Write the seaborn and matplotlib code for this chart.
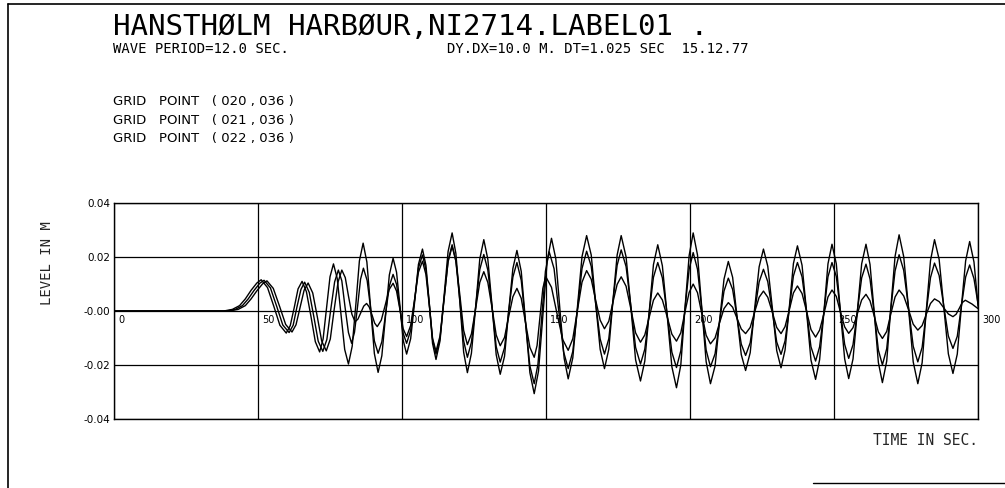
import numpy as np
import pandas as pd
import matplotlib
matplotlib.use("Agg")
import matplotlib.pyplot as plt
import seaborn as sns
from matplotlib.lines import Line2D
from matplotlib.transforms import ScaledTranslation

# ---------------- data ----------------
TITLE = "HANSTHØLM HARBØUR,NI2714.LABEL01 ."
SUB_LEFT = "WAVE PERIOD=12.0 SEC."
SUB_RIGHT = "DY.DX=10.0 M. DT=1.025 SEC  15.12.77"
GRID_POINTS = ["(020, 036)", "(021, 036)", "(022, 036)"]
GRID_LABELS = ["GRID   POINT   ( 020 , 036 )", "GRID   POINT   ( 021 , 036 )",
               "GRID   POINT   ( 022 , 036 )"]

XTICKS = [0, 50, 100, 150, 200, 250, 300]
XTICK_LABELS = ["0", "50", "100", "150", "200", "250", "300"]
YTICKS = [0.04, 0.02, 0.0, -0.02, -0.04]
YTICK_LABELS = ["0.04", "0.02", "-0.00", "-0.02", "-0.04"]

TIME_A = [0, 38, 41, 43.5, 45.5, 47.5, 49.5, 51.0,
          53.2, 55.4, 57.5, 59.7, 61.1, 62.5, 63.8, 65.2,
          66.7, 68.3, 69.8, 71.3, 72.5, 73.7, 74.9, 76.1,
          77.4, 78.7, 80.0, 81.3, 82.6, 83.9, 85.1, 86.4,
          87.7, 89.0, 90.3, 91.6, 92.9, 94.2, 95.5, 96.8,
          98.0, 99.2, 100.3, 101.5, 102.9, 104.3, 105.6, 107.0,
          108.2, 109.4, 110.5, 111.7, 113.1, 114.5, 115.9, 117.3,
          118.6, 120.0, 121.3, 122.6, 124.0, 125.5, 126.9, 128.3,
          129.7, 131.2, 132.6, 134.0, 135.5, 136.9, 138.4, 139.8,
          141.3, 142.8, 144.3, 145.8, 147.3, 148.8, 150.3, 151.8,
          153.3, 154.7, 156.2, 157.6, 159.2, 160.8, 162.4, 164.0,
          165.6, 167.1, 168.7, 170.2, 171.7, 173.1, 174.6, 176.0,
          177.7, 179.4, 181.0, 182.7, 184.2, 185.7, 187.2, 188.7,
          190.3, 192.0, 193.6, 195.2, 196.7, 198.1, 199.6, 201.0,
          202.5, 204.0, 205.5, 207.0, 208.6, 210.1, 211.7, 213.2,
          214.7, 216.2, 217.7, 219.2, 220.8, 222.3, 223.9, 225.4,
          226.9, 228.5, 230.0, 231.5, 232.9, 234.4, 235.8, 237.2,
          238.8, 240.4, 241.9, 243.5, 244.9, 246.4, 247.8, 249.2,
          250.7, 252.1, 253.6, 255.0, 256.5, 258.0, 259.5, 261.0,
          262.4, 263.9, 265.3, 266.7, 268.2, 269.6, 271.1, 272.5,
          274.1, 275.8, 277.4, 279.0, 280.5, 281.9, 283.4, 284.8,
          286.4, 288.0, 289.6, 291.2, 292.7, 294.1, 295.6, 297.0,
          298.5, 300.0]
LEVEL_A = [0, 0, 0.0006, 0.002, 0.0045, 0.0077, 0.0104, 0.0116,
           0.0087, 0.0017, -0.0053, -0.0082, -0.0054, 0.0014, 0.0082, 0.0110,
           0.0072, -0.0021, -0.0114, -0.0152, -0.0104, 0.0012, 0.0127, 0.0175,
           0.0121, -0.0011, -0.0143, -0.0197, -0.0131, 0.0028, 0.0186, 0.0252,
           0.0182, 0.0012, -0.0158, -0.0228, -0.0166, -0.0016, 0.0134, 0.0196,
           0.0144, 0.0018, -0.0108, -0.0160, -0.0103, 0.0035, 0.0173, 0.0230,
           0.0170, 0.0025, -0.0120, -0.0180, -0.0111, 0.0055, 0.0221, 0.0290,
           0.0214, 0.0031, -0.0153, -0.0229, -0.0157, 0.0018, 0.0193, 0.0265,
           0.0192, 0.0015, -0.0162, -0.0235, -0.0168, -0.0005, 0.0158, 0.0225,
           0.0147, -0.0041, -0.0229, -0.0307, -0.0223, -0.0019, 0.0186, 0.0270,
           0.0194, 0.0009, -0.0176, -0.0252, -0.0174, 0.0014, 0.0202, 0.0280,
           0.0208, 0.0033, -0.0142, -0.0214, -0.0142, 0.0033, 0.0208, 0.0280,
           0.0201, 0.0010, -0.0181, -0.0260, -0.0186, -0.0007, 0.0172, 0.0246,
           0.0168, -0.0020, -0.0207, -0.0285, -0.0201, 0.0003, 0.0206, 0.0290,
           0.0208, 0.0010, -0.0188, -0.0270, -0.0204, -0.0043, 0.0118, 0.0184,
           0.0125, -0.0019, -0.0162, -0.0221, -0.0155, 0.0005, 0.0164, 0.0230,
           0.0166, 0.0010, -0.0147, -0.0211, -0.0145, 0.0016, 0.0176, 0.0242,
           0.0170, -0.0006, -0.0182, -0.0254, -0.0181, -0.0003, 0.0175, 0.0248,
           0.0175, -0.0002, -0.0178, -0.0251, -0.0178, -0.0002, 0.0175, 0.0248,
           0.0173, -0.0009, -0.0191, -0.0266, -0.0186, 0.0009, 0.0203, 0.0283,
           0.0202, 0.0007, -0.0189, -0.0270, -0.0192, -0.0003, 0.0187, 0.0265,
           0.0192, 0.0017, -0.0159, -0.0232, -0.0160, 0.0013, 0.0186, 0.0258,
           0.0182, 0.0010]

TIME_B = [0, 39, 42, 44.5, 46.5, 48.5, 50.5, 52.0,
          54.2, 56.4, 58.5, 60.7, 62.1, 63.4, 64.8, 66.1,
          67.7, 69.3, 70.8, 72.4, 73.8, 75.1, 76.5, 77.8,
          79.0, 80.1, 81.3, 82.4, 83.4, 84.5, 85.5, 86.5,
          87.8, 89.1, 90.3, 91.6, 92.9, 94.2, 95.5, 96.8,
          98.0, 99.2, 100.3, 101.5, 102.9, 104.3, 105.6, 107.0,
          108.2, 109.4, 110.5, 111.7, 113.1, 114.5, 115.9, 117.3,
          118.6, 120.0, 121.3, 122.6, 124.0, 125.5, 126.9, 128.3,
          129.7, 131.2, 132.6, 134.0, 135.5, 136.9, 138.4, 139.8,
          141.3, 142.8, 144.3, 145.8, 147.1, 148.4, 149.7, 151.0,
          152.7, 154.3, 156.0, 157.6, 159.2, 160.8, 162.4, 164.0,
          165.6, 167.1, 168.7, 170.2, 171.7, 173.1, 174.6, 176.0,
          177.7, 179.4, 181.0, 182.7, 184.2, 185.7, 187.2, 188.7,
          190.3, 192.0, 193.6, 195.2, 196.7, 198.1, 199.6, 201.0,
          202.5, 204.0, 205.5, 207.0, 208.6, 210.1, 211.7, 213.2,
          214.7, 216.2, 217.7, 219.2, 220.8, 222.3, 223.9, 225.4,
          226.9, 228.5, 230.0, 231.5, 232.9, 234.4, 235.8, 237.2,
          238.8, 240.4, 241.9, 243.5, 244.9, 246.4, 247.8, 249.2,
          250.7, 252.1, 253.6, 255.0, 256.5, 258.0, 259.5, 261.0,
          262.4, 263.9, 265.3, 266.7, 268.2, 269.6, 271.1, 272.5,
          274.1, 275.8, 277.4, 279.0, 280.5, 281.9, 283.4, 284.8,
          286.4, 288.0, 289.6, 291.2, 292.7, 294.1, 295.6, 297.0,
          298.5, 300.0]
LEVEL_B = [0, 0, 0.0006, 0.002, 0.0045, 0.0076, 0.0103, 0.0114,
           0.0086, 0.0017, -0.0052, -0.0080, -0.0053, 0.0014, 0.0080, 0.0107,
           0.0069, -0.0022, -0.0112, -0.0150, -0.0106, 0.0001, 0.0108, 0.0152,
           0.0112, 0.0016, -0.0080, -0.0120, -0.0079, 0.0020, 0.0118, 0.0159,
           0.0113, 0.0001, -0.0111, -0.0157, -0.0114, -0.0011, 0.0093, 0.0136,
           0.0099, 0.0008, -0.0083, -0.0120, -0.0072, 0.0044, 0.0160, 0.0208,
           0.0154, 0.0024, -0.0106, -0.0160, -0.0101, 0.0043, 0.0187, 0.0246,
           0.0185, 0.0037, -0.0111, -0.0172, -0.0116, 0.0019, 0.0154, 0.0210,
           0.0152, 0.0010, -0.0132, -0.0190, -0.0136, -0.0005, 0.0126, 0.0180,
           0.0114, -0.0045, -0.0204, -0.0270, -0.0198, -0.0025, 0.0148, 0.0220,
           0.0157, 0.0003, -0.0151, -0.0214, -0.0150, 0.0004, 0.0158, 0.0222,
           0.0166, 0.0031, -0.0104, -0.0160, -0.0103, 0.0034, 0.0170, 0.0227,
           0.0165, 0.0015, -0.0135, -0.0197, -0.0142, -0.0009, 0.0125, 0.0180,
           0.0123, -0.0015, -0.0153, -0.0210, -0.0148, 0.0004, 0.0155, 0.0217,
           0.0155, 0.0005, -0.0145, -0.0207, -0.0159, -0.0043, 0.0074, 0.0122,
           0.0080, -0.0022, -0.0123, -0.0165, -0.0118, -0.0005, 0.0108, 0.0155,
           0.0109, -0.0003, -0.0115, -0.0161, -0.0111, 0.0010, 0.0130, 0.0180,
           0.0127, -0.0003, -0.0133, -0.0186, -0.0133, -0.0003, 0.0127, 0.0180,
           0.0128, 0.0002, -0.0124, -0.0176, -0.0125, -0.0001, 0.0123, 0.0174,
           0.0119, -0.0013, -0.0145, -0.0200, -0.0140, 0.0005, 0.0149, 0.0209,
           0.0151, 0.0010, -0.0131, -0.0189, -0.0135, -0.0006, 0.0124, 0.0178,
           0.0132, 0.0020, -0.0093, -0.0139, -0.0094, 0.0016, 0.0126, 0.0171,
           0.0120, 0.0020]

TIME_C = [0, 40, 43, 45.5, 47.5, 49.5, 51.5, 53.0,
          55.2, 57.4, 59.5, 61.7, 63.1, 64.5, 65.9, 67.3,
          68.9, 70.5, 72.0, 73.6, 75.0, 76.3, 77.7, 79.0,
          80.2, 81.3, 82.5, 83.6, 84.6, 85.6, 86.6, 87.6,
          88.5, 89.5, 90.4, 91.3, 92.7, 94.1, 95.4, 96.8,
          98.0, 99.2, 100.3, 101.5, 102.9, 104.3, 105.6, 107.0,
          108.2, 109.4, 110.5, 111.7, 113.1, 114.5, 115.9, 117.3,
          118.6, 120.0, 121.3, 122.6, 124.0, 125.5, 126.9, 128.3,
          129.7, 131.2, 132.6, 134.0, 135.5, 136.9, 138.4, 139.8,
          141.3, 142.8, 144.3, 145.8, 146.8, 147.8, 148.8, 149.8,
          151.8, 153.7, 155.7, 157.6, 159.2, 160.8, 162.4, 164.0,
          165.6, 167.1, 168.7, 170.2, 171.7, 173.1, 174.6, 176.0,
          177.7, 179.4, 181.0, 182.7, 184.2, 185.7, 187.2, 188.7,
          190.3, 192.0, 193.6, 195.2, 196.7, 198.1, 199.6, 201.0,
          202.5, 204.0, 205.5, 207.0, 208.6, 210.1, 211.7, 213.2,
          214.7, 216.2, 217.7, 219.2, 220.8, 222.3, 223.9, 225.4,
          226.9, 228.5, 230.0, 231.5, 232.9, 234.4, 235.8, 237.2,
          238.8, 240.4, 241.9, 243.5, 244.9, 246.4, 247.8, 249.2,
          250.7, 252.1, 253.6, 255.0, 256.5, 258.0, 259.5, 261.0,
          262.4, 263.9, 265.3, 266.7, 268.2, 269.6, 271.1, 272.5,
          274.1, 275.8, 277.4, 279.0, 280.5, 281.9, 283.4, 284.8,
          286.4, 288.0, 289.6, 291.2, 292.3, 293.4, 294.4, 295.5,
          297.8, 300.0]
LEVEL_C = [0, 0, 0.0006, 0.002, 0.0045, 0.0075, 0.0101, 0.0112,
           0.0084, 0.0017, -0.0050, -0.0078, -0.0051, 0.0013, 0.0077, 0.0104,
           0.0067, -0.0022, -0.0111, -0.0148, -0.0104, 0.0002, 0.0108, 0.0152,
           0.0124, 0.0056, -0.0012, -0.0040, -0.0030, -0.0006, 0.0018, 0.0028,
           0.0015, -0.0015, -0.0045, -0.0058, -0.0034, 0.0023, 0.0079, 0.0103,
           0.0074, 0.0004, -0.0066, -0.0095, -0.0054, 0.0045, 0.0144, 0.0185,
           0.0136, 0.0018, -0.0101, -0.0150, -0.0093, 0.0045, 0.0183, 0.0240,
           0.0187, 0.0058, -0.0072, -0.0125, -0.0085, 0.0011, 0.0106, 0.0146,
           0.0106, 0.0009, -0.0089, -0.0129, -0.0098, -0.0023, 0.0053, 0.0084,
           0.0047, -0.0044, -0.0135, -0.0172, -0.0128, -0.0022, 0.0084, 0.0128,
           0.0088, -0.0009, -0.0106, -0.0146, -0.0103, 0.0002, 0.0107, 0.0150,
           0.0118, 0.0042, -0.0034, -0.0066, -0.0038, 0.0031, 0.0099, 0.0127,
           0.0092, 0.0006, -0.0081, -0.0116, -0.0089, -0.0025, 0.0040, 0.0067,
           0.0041, -0.0023, -0.0086, -0.0112, -0.0081, -0.0006, 0.0069, 0.0100,
           0.0068, -0.0011, -0.0090, -0.0122, -0.0100, -0.0046, 0.0009, 0.0031,
           0.0014, -0.0027, -0.0067, -0.0084, -0.0061, -0.0005, 0.0051, 0.0074,
           0.0051, -0.0005, -0.0061, -0.0084, -0.0058, 0.0005, 0.0067, 0.0093,
           0.0065, -0.0002, -0.0069, -0.0097, -0.0071, -0.0010, 0.0052, 0.0078,
           0.0054, -0.0003, -0.0059, -0.0083, -0.0062, -0.0011, 0.0041, 0.0062,
           0.0038, -0.0020, -0.0078, -0.0102, -0.0076, -0.0012, 0.0052, 0.0078,
           0.0056, 0.0004, -0.0049, -0.0071, -0.0054, -0.0013, 0.0028, 0.0045,
           0.0035, 0.0012, -0.0011, -0.0021, -0.0012, 0.0010, 0.0031, 0.0040,
           0.0026, 0.0008]

# ---------------- figure ----------------
sns.set_theme(style="white")
plt.rcParams["font.family"] = ["DejaVu Sans"]

W, H = 1005, 488
fig = plt.figure(figsize=(W / 100, H / 100), dpi=100)
fig.patch.set_facecolor("white")


def fx(px):
    return px / W


def fy(py):
    return 1 - py / H


ax = fig.add_axes([fx(114.3), fy(418.7), fx(978.3) - fx(114.3), fy(203.3) - fy(418.7)])
ax.set_facecolor("white")

df = pd.concat([
    pd.DataFrame({"time": TIME_A, "level": LEVEL_A, "point": GRID_POINTS[0]}),
    pd.DataFrame({"time": TIME_B, "level": LEVEL_B, "point": GRID_POINTS[1]}),
    pd.DataFrame({"time": TIME_C, "level": LEVEL_C, "point": GRID_POINTS[2]}),
], ignore_index=True)

sns.lineplot(data=df, x="time", y="level", hue="point",
             palette={p: "black" for p in GRID_POINTS},
             estimator=None, sort=False, legend=False, linewidth=1.0, ax=ax)

ax.set_xlim(XTICKS[0], XTICKS[-1])
ax.set_ylim(YTICKS[-1], YTICKS[0])
ax.set_xticks(XTICKS)
ax.set_xticklabels([])
ax.set_yticks(YTICKS)
ax.set_yticklabels(YTICK_LABELS, fontsize=7.5)
ax.tick_params(axis="both", length=0, pad=3, colors="black")
ax.grid(True, color="black", linewidth=0.9)
for s in ax.spines.values():
    s.set_color("black")
    s.set_linewidth(1.0)

# x tick labels sit just under the zero line, right of each grid line
off = ScaledTranslation(4 / 100, -4 / 100, fig.dpi_scale_trans)
for t, lab in zip(XTICKS, XTICK_LABELS):
    ax.text(t, 0, lab, transform=ax.transData + off, ha="left", va="top",
            fontsize=7, color="black")

ax.set_xlabel("TIME IN SEC.", family="DejaVu Sans Mono", fontsize=10.5,
              ha="right", va="center")
ax.xaxis.set_label_coords(1.0, -0.099)
ax.set_ylabel("LEVEL IN M", family="DejaVu Sans Mono", fontsize=10,
              va="center")
ax.yaxis.set_label_coords(-0.078, 0.723)

# header texts
fig.text(fx(113), fy(35), TITLE, family="DejaVu Sans Mono", fontsize=21,
         ha="left", va="baseline", color="black")
fig.text(fx(113), fy(53), SUB_LEFT, family="DejaVu Sans Mono", fontsize=10,
         ha="left", va="baseline", color="black")
fig.text(fx(748), fy(53), SUB_RIGHT, family="DejaVu Sans Mono", fontsize=10,
         ha="right", va="baseline", color="black")
for i, lab in enumerate(GRID_LABELS):
    fig.text(fx(113), fy(105 + 18.5 * i), lab, fontsize=9.5, ha="left",
             va="baseline", color="black")

# page frame of the plotter sheet
fig.add_artist(Line2D([fx(8), fx(1005)], [fy(4), fy(4)], color="black", lw=1.2))
fig.add_artist(Line2D([fx(8), fx(8)], [fy(4), fy(488)], color="black", lw=1.2))
fig.add_artist(Line2D([fx(813), fx(1005)], [fy(483), fy(483)], color="black", lw=1.0))

fig.savefig("out.png", dpi=100)
